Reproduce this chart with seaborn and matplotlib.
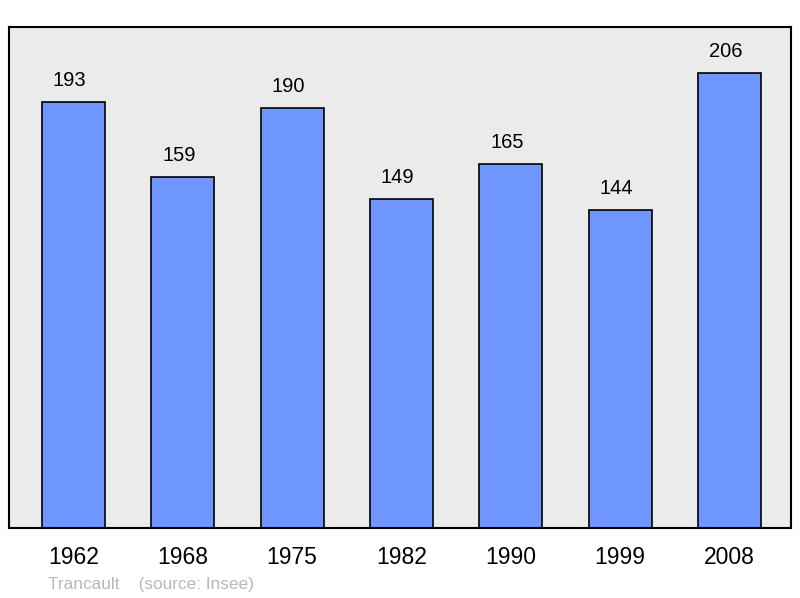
import pandas as pd
import seaborn as sns
import matplotlib.pyplot as plt

# datos de poblacion
annees = ["1962", "1968", "1975", "1982", "1990", "1999", "2008"]
population = [193, 159, 190, 149, 165, 144, 206]

df = pd.DataFrame({"annee": annees, "pop": population})

sns.set_theme(style="white")
plt.rcParams["font.family"] = ["Liberation Sans", "DejaVu Sans"]

fig = plt.figure(figsize=(8, 5.98), dpi=100)
ax = fig.add_axes([0.01125, 0.117, 0.9775, 0.8378])
ax.set_facecolor("#ebebeb")

sns.barplot(
    data=df,
    x="annee",
    y="pop",
    color="#6f96ff",
    saturation=1,
    width=0.576,
    edgecolor="black",
    linewidth=1.2,
    errorbar=None,
    ax=ax,
)

# etiquetas encima de las barras
for barra, valor in zip(ax.patches, population):
    ax.annotate(
        str(valor),
        xy=(barra.get_x() + barra.get_width() / 2, valor),
        xytext=(-4, 12),
        textcoords="offset pixels",
        ha="center",
        va="bottom",
        fontsize=14.5,
        color="black",
    )

ax.set_xlim(-0.59, 6.5625)
ax.set_ylim(0, 226.8)
ax.set_yticks([])
ax.set_xlabel("")
ax.set_ylabel("")
ax.tick_params(axis="x", length=0, labelsize=16.5, pad=13, labelcolor="black")
for s in ax.spines.values():
    s.set_visible(True)
    s.set_color("black")
    s.set_linewidth(1.5)

fig.text(0.06, 0.0234, "Trancault    (source: Insee)", fontsize=12.4,
         color="#b8b8b8", va="center")

fig.savefig("out.png", dpi=100)
plt.close()
